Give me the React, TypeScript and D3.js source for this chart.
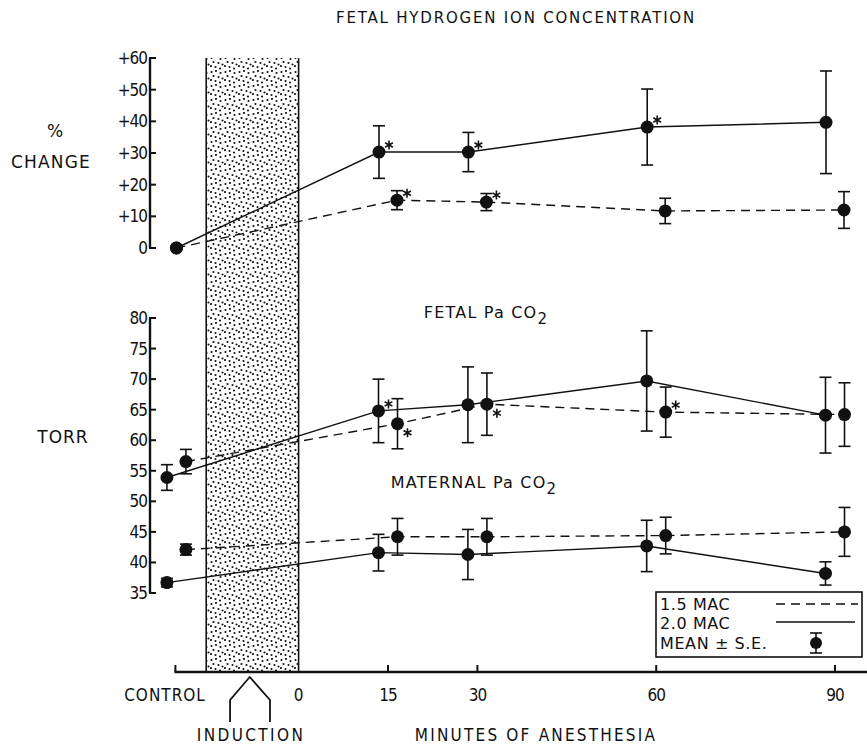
import React from 'react';
import * as d3 from 'd3';

// x positions: control sits before the induction period, then minutes of anesthesia
const minutes = [-20.5, 15, 30, 60, 90];
const xTickMinutes = [15, 30, 60, 90];
const inductionSpan = [-15.5, 0];

// fetal hydrogen ion concentration, % change (mean, S.E.)
const hion20 = [0, 30.3, 30.3, 38.2, 39.7];
const hion20Se = [0, 8.3, 6.2, 12, 16.2];
const hion15 = [0, 15.1, 14.5, 11.7, 12];
const hion15Se = [0, 3, 2.7, 4, 5.8];
const hion20Star = ['', 'ur', 'ur', 'ur', ''];
const hion15Star = ['', 'ur', 'ur', '', ''];

// fetal Pa CO2, torr
const fetal20 = [53.9, 64.8, 65.8, 69.7, 64.1];
const fetal20Se = [2.1, 5.2, 6.2, 8.2, 6.2];
const fetal15 = [56.5, 62.7, 65.9, 64.6, 64.2];
const fetal15Se = [2.0, 4.1, 5.1, 4.1, 5.2];
const fetal20Star = ['', 'ur', '', '', ''];
const fetal15Star = ['', 'lr', 'lr', 'ur', ''];

// maternal Pa CO2, torr
const mat20 = [36.7, 41.6, 41.3, 42.7, 38.2];
const mat20Se = [0.7, 3.0, 4.1, 4.2, 1.9];
const mat15 = [42.1, 44.2, 44.2, 44.4, 45];
const mat15Se = [0.9, 3.0, 3.0, 3.0, 4.0];

const topTicks = [0, 10, 20, 30, 40, 50, 60];
const botTicks = [35, 40, 45, 50, 55, 60, 65, 70, 75, 80];

const FONT = "'DejaVu Sans Condensed', 'DejaVu Sans', sans-serif";
const WIDE = "'DejaVu Sans', sans-serif";
const DASH = '9,6';

const x = d3.scaleLinear().domain([0, 90]).range([298.6, 835]);
const yTop = d3.scaleLinear().domain([0, 60]).range([248, 58]);
const yBot = d3.scaleLinear().domain([35, 80]).range([593, 318]);

// significance mark drawn as a little six-spoke asterisk
function Star({ cx, cy }: any) {
  const r = 4.5;
  const d = [90, 30, 150]
    .map((a) => {
      const t = (a * Math.PI) / 180;
      return `M${cx - r * Math.cos(t)},${cy - r * Math.sin(t)}L${cx + r * Math.cos(t)},${cy + r * Math.sin(t)}`;
    })
    .join('');
  return <path d={d} stroke="#111" strokeWidth={1.6} fill="none" />;
}

function Series({ vals, se, stars, y, dodge, dashed, sharedControl }: any) {
  const pts = vals.map((v: number, i: number) => [
    x(minutes[i]) + (sharedControl && i === 0 ? 0 : dodge),
    y(v),
  ]);
  const line = d3.line();
  return (
    <g>
      <path d={line(pts) || ''} fill="none" stroke="#111" strokeWidth={1.4}
        strokeDasharray={dashed ? DASH : undefined} />
      {pts.map(([px, py]: number[], i: number) => {
        const hi = y(vals[i] + se[i]);
        const lo = y(vals[i] - se[i]);
        return (
          <g key={i}>
            {se[i] > 0 && (
              <g stroke="#111" strokeWidth={1.6}>
                <line x1={px} x2={px} y1={hi} y2={lo} />
                <line x1={px - 6} x2={px + 6} y1={hi} y2={hi} />
                <line x1={px - 6} x2={px + 6} y1={lo} y2={lo} />
              </g>
            )}
            <circle cx={px} cy={py} r={6.5} fill="#111" />
            {stars[i] && <Star cx={px + 10} cy={stars[i] === 'ur' ? py - 7 : py + 9} />}
          </g>
        );
      })}
    </g>
  );
}

function YAxis({ y, ticks, fmt }: any) {
  const [lo, hi] = y.domain();
  return (
    <g>
      <line x1={150} x2={150} y1={y(lo)} y2={y(hi)} stroke="#111" strokeWidth={2.4} />
      {ticks.map((t: number) => (
        <g key={t}>
          <line x1={149} x2={156} y1={y(t)} y2={y(t)} stroke="#111" strokeWidth={2} />
          <text x={147} y={y(t) + 6} textAnchor="end" fontSize={17} fontFamily={FONT}
            letterSpacing={-1} fill="#111">{fmt(t)}</text>
        </g>
      ))}
    </g>
  );
}

export default function App() {
  const axisY = 672;
  const bandX0 = x(inductionSpan[0]);
  const bandX1 = x(inductionSpan[1]);
  const ctrlX = x(minutes[0]);
  return (
    <svg width={867} height={746} style={{ position: 'absolute', left: 0, top: 0, background: '#fff' }}>
      <defs>
        <pattern id="stip" width={14} height={14} patternUnits="userSpaceOnUse">
          <circle cx={1.5} cy={2} r={1.05} fill="#111" />
          <circle cx={6} cy={1} r={1.05} fill="#111" />
          <circle cx={10.5} cy={3} r={1.05} fill="#111" />
          <circle cx={3.5} cy={6} r={1.05} fill="#111" />
          <circle cx={8.5} cy={7} r={1.05} fill="#111" />
          <circle cx={12.5} cy={8.5} r={1.05} fill="#111" />
          <circle cx={1} cy={10} r={1.05} fill="#111" />
          <circle cx={5.5} cy={11} r={1.05} fill="#111" />
          <circle cx={10} cy={12.5} r={1.05} fill="#111" />
        </pattern>
      </defs>

      {/* induction band */}
      <rect x={bandX0} y={yTop(60)} width={bandX1 - bandX0} height={axisY - yTop(60)} fill="url(#stip)" />
      <line x1={bandX0} x2={bandX0} y1={yTop(60)} y2={axisY} stroke="#111" strokeWidth={1.6} />
      <line x1={bandX1} x2={bandX1} y1={yTop(60)} y2={axisY} stroke="#111" strokeWidth={1.6} />

      {/* titles */}
      <text x={516} y={23} textAnchor="middle" fontSize={15} letterSpacing={1.8} fontFamily={WIDE} fill="#111">
        FETAL HYDROGEN ION CONCENTRATION
      </text>
      <text x={486} y={318} textAnchor="middle" fontSize={16} letterSpacing={1.2} fontFamily={WIDE} fill="#111">
        FETAL Pa CO<tspan dy={6} fontSize={15}>2</tspan>
      </text>
      <text x={474} y={488} textAnchor="middle" fontSize={16} letterSpacing={1.2} fontFamily={WIDE} fill="#111">
        MATERNAL Pa CO<tspan dy={6} fontSize={15}>2</tspan>
      </text>
      <text x={55} y={137} textAnchor="middle" fontSize={17} fontFamily={WIDE} fill="#111">%</text>
      <text x={51} y={168} textAnchor="middle" fontSize={17} letterSpacing={1.2} fontFamily={WIDE} fill="#111">CHANGE</text>
      <text x={63} y={443} textAnchor="middle" fontSize={17} letterSpacing={1} fontFamily={WIDE} fill="#111">TORR</text>

      <YAxis y={yTop} ticks={topTicks} fmt={(t: number) => (t === 0 ? '0' : '+' + t)} />
      <YAxis y={yBot} ticks={botTicks} fmt={(t: number) => String(t)} />

      {/* x axis */}
      <line x1={ctrlX - 2} x2={867} y1={axisY} y2={axisY} stroke="#111" strokeWidth={2.4} />
      <line x1={ctrlX - 1} x2={ctrlX - 1} y1={axisY - 7} y2={axisY} stroke="#111" strokeWidth={2} />
      {xTickMinutes.map((t) => (
        <g key={t}>
          <line x1={x(t)} x2={x(t)} y1={axisY - 7} y2={axisY} stroke="#111" strokeWidth={2} />
          <text x={x(t)} y={701} textAnchor="middle" fontSize={17} letterSpacing={-1} fontFamily={FONT} fill="#111">{t}</text>
        </g>
      ))}
      <text x={x(0)} y={701} textAnchor="middle" fontSize={17} fontFamily={FONT} fill="#111">0</text>
      <text x={165} y={701} textAnchor="middle" fontSize={17} letterSpacing={1} fontFamily={FONT} fill="#111">CONTROL</text>
      {/* induction bracket */}
      <path d={`M${x(-11.5)},722 V700 L${x(-8.2)},677 L${x(-4.8)},700 V722`} fill="none" stroke="#111" strokeWidth={1.8} />
      <text x={251} y={741} textAnchor="middle" fontSize={17} letterSpacing={2.4} fontFamily={FONT} fill="#111">INDUCTION</text>
      <text x={536} y={741} textAnchor="middle" fontSize={17} letterSpacing={2.2} fontFamily={FONT} fill="#111">MINUTES OF ANESTHESIA</text>

      {/* data */}
      <Series vals={hion15} se={hion15Se} stars={hion15Star} y={yTop} dodge={9} dashed sharedControl />
      <Series vals={hion20} se={hion20Se} stars={hion20Star} y={yTop} dodge={-9} sharedControl />
      <Series vals={fetal15} se={fetal15Se} stars={fetal15Star} y={yBot} dodge={9.5} dashed />
      <Series vals={fetal20} se={fetal20Se} stars={fetal20Star} y={yBot} dodge={-9.5} />
      <Series vals={mat15} se={mat15Se} stars={['', '', '', '', '']} y={yBot} dodge={9.5} dashed />
      <Series vals={mat20} se={mat20Se} stars={['', '', '', '', '']} y={yBot} dodge={-9.5} />

      {/* legend */}
      <g fontFamily={WIDE} fontSize={16} letterSpacing={0.6} fill="#111">
        <rect x={656} y={592} width={206} height={65} fill="#fff" stroke="#111" strokeWidth={1.6} />
        <text x={660} y={610}>1.5 MAC</text>
        <line x1={776} x2={858} y1={604} y2={604} stroke="#111" strokeWidth={1.4} strokeDasharray={DASH} />
        <text x={660} y={629}>2.0 MAC</text>
        <line x1={776} x2={855} y1={622} y2={622} stroke="#111" strokeWidth={1.4} />
        <text x={660} y={649}>MEAN ± S.E.</text>
        <g stroke="#111" strokeWidth={1.6}>
          <line x1={816} x2={816} y1={633} y2={653} />
          <line x1={810} x2={822} y1={633} y2={633} />
          <line x1={810} x2={822} y1={653} y2={653} />
        </g>
        <circle cx={816} cy={643} r={6} fill="#111" />
      </g>
    </svg>
  );
}
